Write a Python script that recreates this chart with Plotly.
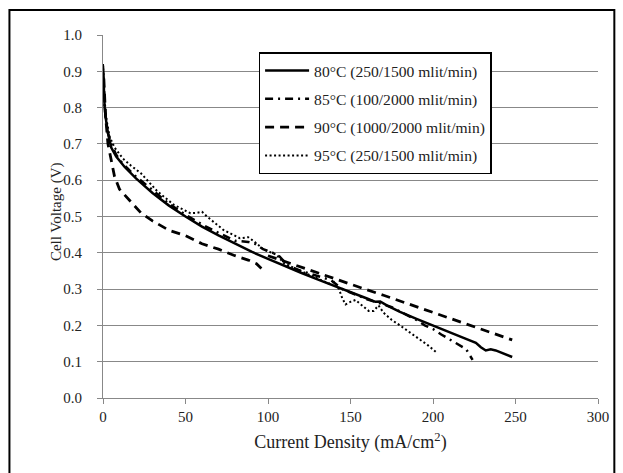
import plotly.graph_objects as go

# -------------------------
# Data
# -------------------------
x_80 = [0, 0.5, 1, 2, 3, 5, 8, 13, 20, 30, 40, 50, 60, 70, 80, 90, 100, 110, 120, 130,
        140, 150, 160, 165, 168, 172, 180, 190, 200, 210, 220, 226, 229, 232, 235, 238, 243, 248]
y_80 = [0.915, 0.86, 0.80, 0.76, 0.73, 0.69, 0.665, 0.637, 0.605, 0.565, 0.53, 0.50, 0.472,
        0.448, 0.425, 0.403, 0.383, 0.363, 0.345, 0.327, 0.31, 0.292, 0.274, 0.265, 0.266,
        0.255, 0.237, 0.218, 0.199, 0.181, 0.163, 0.152, 0.140, 0.131, 0.134, 0.131, 0.122, 0.113]

x_85 = [0, 1, 2, 3, 5, 8, 12, 20, 30, 40, 50, 60, 70, 80, 88, 92, 97, 103, 107, 112, 120,
        130, 138, 145, 150, 160, 170, 175, 180, 190, 195, 200, 205, 210, 215, 220, 224]
y_85 = [0.90, 0.80, 0.76, 0.73, 0.70, 0.67, 0.645, 0.61, 0.573, 0.535, 0.505, 0.478, 0.455,
        0.433, 0.43, 0.425, 0.41, 0.40, 0.39, 0.365, 0.35, 0.335, 0.325, 0.30, 0.29, 0.272,
        0.258, 0.25, 0.238, 0.215, 0.20, 0.19, 0.175, 0.162, 0.15, 0.135, 0.105]

# the 90°C record has a break just before 100 mA/cm2
x_90 = [0.5, 1.5, 3, 5, 7, 10, 14, 18, 23, 30, 40, 50, 60, 70, 80, 88, 93, 96, None, 100, 110,
        120, 130, 140, 150, 160, 170, 180, 190, 200, 210, 220, 230, 240, 248]
y_90 = [0.88, 0.78, 0.70, 0.65, 0.61, 0.575, 0.555, 0.537, 0.51, 0.488, 0.462, 0.447, 0.425,
        0.41, 0.392, 0.38, 0.37, 0.357, None, 0.392, 0.376, 0.36, 0.345, 0.33, 0.314, 0.298,
        0.283, 0.267, 0.251, 0.235, 0.22, 0.204, 0.188, 0.173, 0.16]

x_95 = [0, 1, 2, 4, 7, 12, 17, 23, 33, 43, 53, 57, 60, 63, 73, 83, 88, 92, 97, 105, 110,
        120, 130, 137, 140, 143, 145, 147, 150, 153, 157, 161, 164, 167, 170, 175, 180, 190,
        197, 202]
y_95 = [0.92, 0.82, 0.77, 0.72, 0.69, 0.66, 0.64, 0.619, 0.569, 0.532, 0.509, 0.51, 0.513,
        0.50, 0.463, 0.44, 0.443, 0.43, 0.41, 0.395, 0.37, 0.35, 0.33, 0.315, 0.32, 0.30,
        0.275, 0.258, 0.265, 0.27, 0.255, 0.24, 0.24, 0.255, 0.235, 0.215, 0.200, 0.168,
        0.145, 0.126]

names = ["80°C (250/1500 mlit/min)", "85°C (100/2000 mlit/min)",
         "90°C (1000/2000 mlit/min)", "95°C (250/1500 mlit/min)"]

FONT = "Liberation Serif, Times New Roman, serif"

fig = go.Figure()

series = [
    (x_80, y_80, dict(color="black", width=2.5, dash="solid")),
    (x_85, y_85, dict(color="black", width=2.5, dash="8px,5px,2px,5px")),
    (x_90, y_90, dict(color="black", width=2.8, dash="9px,6px")),
    (x_95, y_95, dict(color="black", width=2, dash="2px,2.5px")),
]

for i, (xs, ys, line) in enumerate(series):
    fig.add_trace(go.Scatter(
        x=xs, y=ys, mode="lines", name=names[i], line=line,
        legendgroup=str(i), connectgaps=False,
    ))

# outer frame around the whole chart
fig.add_shape(type="rect", xref="paper", yref="paper",
              x0=-0.189, x1=1.033, y0=-0.25, y1=1.069,
              line=dict(color="black", width=2), layer="above")

# y title placed by hand so it sits right next to the tick labels
fig.add_annotation(text="Cell Voltage (V)", textangle=-90,
                   xref="paper", yref="paper", x=-0.0943, y=0.513,
                   xanchor="center", yanchor="middle",
                   showarrow=False, font=dict(family=FONT, size=15, color="#222"))

fig.update_layout(
    width=623, height=473,
    margin=dict(l=102.7, r=25.3, t=35, b=74.7),
    paper_bgcolor="white", plot_bgcolor="white",
    font=dict(family=FONT, size=15, color="#222"),
    showlegend=True,
    legend=dict(
        x=0.3143, y=0.952, xanchor="left", yanchor="top",
        bordercolor="black", borderwidth=1.5, bgcolor="white",
        traceorder="grouped", tracegroupgap=5, itemwidth=44,
        font=dict(family=FONT, size=15.6, color="#222"),
    ),
    xaxis=dict(
        range=[0, 300], dtick=50, tick0=0,
        showgrid=False, zeroline=False,
        showline=True, linecolor="#888", linewidth=1,
        ticks="outside", ticklen=5, tickcolor="#888",
        title=dict(text="Current Density (mA/cm<sup>2</sup>)", standoff=11),
    ),
    yaxis=dict(
        range=[0, 1.0], dtick=0.1, tick0=0, tickformat=".1f",
        showgrid=True, gridcolor="#888", gridwidth=1, zeroline=False,
        showline=True, linecolor="#888", linewidth=1,
        ticks="outside", ticklen=5, tickcolor="#888",
        ticklabelstandoff=12,
    ),
)

fig.write_html("out.html", config={"displayModeBar": False},
               post_script="document.body.style.margin='0px';")
